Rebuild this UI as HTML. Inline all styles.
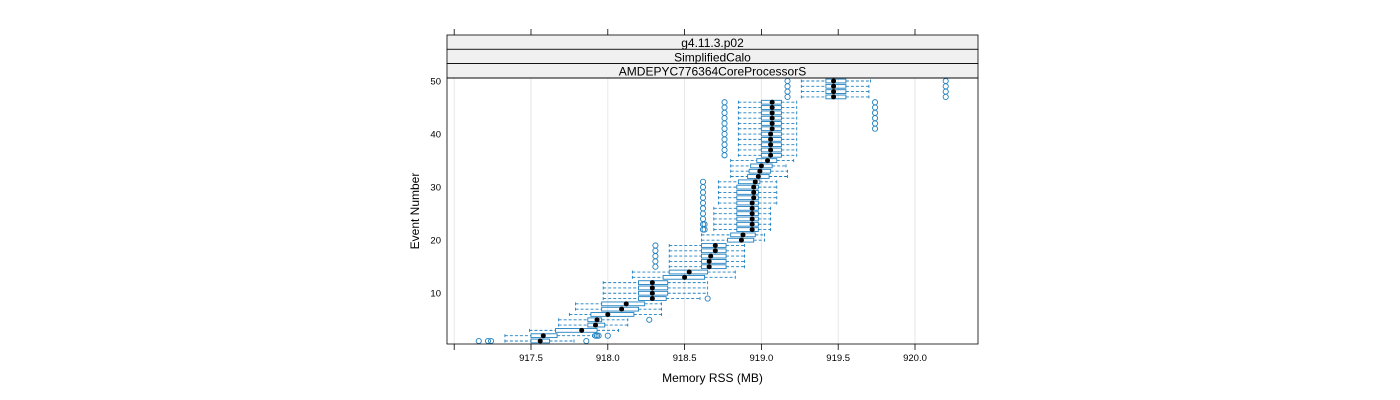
<!DOCTYPE html>
<html><head><meta charset="utf-8"><style>body{margin:0;background:#fff}svg{display:block;font-family:"Liberation Sans",sans-serif}</style></head>
<body>
<svg id="chart" width="1400" height="400" viewBox="0 0 1400 400" xmlns="http://www.w3.org/2000/svg">
<g id="grid"></g>
<g id="strips">
<rect x="447" y="35" width="531" height="14.3" fill="#f0f0f0" stroke="#000" stroke-width="0.8"/>
<text x="712.5" y="47" font-size="12" text-anchor="middle">g4.11.3.p02</text>
<rect x="447" y="49.3" width="531" height="14.3" fill="#f0f0f0" stroke="#000" stroke-width="0.8"/>
<text x="712.5" y="61.3" font-size="12" text-anchor="middle">SimplifiedCalo</text>
<rect x="447" y="63.6" width="531" height="14.4" fill="#f0f0f0" stroke="#000" stroke-width="0.8"/>
<text x="712.5" y="75.6" font-size="12" text-anchor="middle">AMDEPYC776364CoreProcessorS</text>
</g>
<g id="marks"></g>
<rect x="447" y="78" width="531" height="266" fill="none" stroke="#000" stroke-width="0.8"/>
<g id="axes"></g>
<text x="712.5" y="382" font-size="12" text-anchor="middle">Memory RSS (MB)</text>
<text x="419" y="211" font-size="12" text-anchor="middle" transform="rotate(-90 419 211)">Event Number</text>
</svg>
<script>
const events=[];for(let i=1;i<=50;i++)events.push(i);
const lo=[917.33,917.33,917.49,917.68,917.68,917.75,917.79,917.79,917.97,917.97,917.97,917.97,918.16,918.16,918.4,918.4,918.4,918.4,918.4,918.61,918.61,918.69,918.69,918.69,918.69,918.69,918.72,918.72,918.72,918.72,918.72,918.8,918.8,918.8,918.8,918.85,918.85,918.85,918.85,918.85,918.85,918.85,918.85,918.85,918.85,918.85,919.26,919.26,919.26,919.26];
const q1=[917.5,917.5,917.66,917.87,917.87,917.89,917.96,917.96,918.2,918.2,918.2,918.2,918.36,918.4,918.61,918.61,918.61,918.61,918.61,918.78,918.8,918.84,918.84,918.84,918.84,918.84,918.84,918.84,918.84,918.84,918.85,918.91,918.92,918.93,918.97,919.0,919.0,919.0,919.0,919.0,919.0,919.0,919.0,919.0,919.0,919.0,919.42,919.42,919.42,919.42];
const med=[917.56,917.58,917.83,917.92,917.93,918.0,918.09,918.12,918.29,918.29,918.29,918.29,918.5,918.53,918.66,918.66,918.67,918.7,918.7,918.87,918.88,918.94,918.94,918.94,918.94,918.94,918.94,918.95,918.95,918.95,918.96,918.98,918.99,919.0,919.04,919.06,919.06,919.06,919.06,919.06,919.07,919.07,919.07,919.07,919.07,919.07,919.47,919.47,919.47,919.47];
const q3=[917.62,917.67,917.93,917.98,917.96,918.17,918.2,918.24,918.38,918.39,918.39,918.39,918.63,918.65,918.77,918.77,918.77,918.77,918.77,918.95,918.96,918.98,918.98,918.98,918.98,918.98,918.98,918.98,918.98,918.98,918.99,919.05,919.06,919.07,919.1,919.13,919.13,919.13,919.13,919.13,919.13,919.13,919.13,919.13,919.13,919.13,919.55,919.55,919.55,919.55];
const hi=[917.78,917.9,918.07,918.13,918.13,918.35,918.35,918.35,918.6,918.65,918.65,918.65,918.83,918.83,918.89,918.89,918.89,918.89,918.89,919.02,919.02,919.06,919.06,919.06,919.06,919.06,919.1,919.1,919.1,919.1,919.1,919.17,919.17,919.16,919.21,919.23,919.23,919.23,919.23,919.23,919.23,919.23,919.23,919.23,919.23,919.23,919.7,919.7,919.7,919.71];
const outliers=[[917.16,917.22,917.24,917.86],[917.92,917.93,917.94,918.0],[],[],[918.27],[],[],[],[918.65],[],[],[],[],[],[918.31],[918.31],[918.31],[918.31],[918.31],[],[],[918.62,918.63],[918.62,918.63],[918.62],[918.62],[918.62],[918.62],[918.62],[918.62],[918.62],[918.62],[],[],[],[],[918.76],[918.76],[918.76],[918.76],[918.76],[918.76,919.74],[918.76,919.74],[918.76,919.74],[918.76,919.74],[918.76,919.74],[918.76,919.74],[919.17,920.2],[919.17,920.2],[919.17,920.2],[919.17,920.2]];
const xTicks=[917.0,917.5,918.0,918.5,919.0,919.5,920.0];
const xTickLabels=["","917.5","918.0","918.5","919.0","919.5","920.0"];
const yTicks=[10,20,30,40,50];

const NS="http://www.w3.org/2000/svg";
function X(v){return 531+(v-917.5)*153.6;}
function Y(e){return 81+(50-e)*5.306;}
function mk(tag,attrs,parent){const el=document.createElementNS(NS,tag);for(const k in attrs)el.setAttribute(k,attrs[k]);parent.appendChild(el);return el;}
const grid=document.getElementById('grid'),axes=document.getElementById('axes'),marks=document.getElementById('marks');
const C="#1f80c0";
xTicks.forEach((t,i)=>{
  const x=X(t);
  const g=mk('line',{x1:x,x2:x,y1:78,y2:344,stroke:'#e6e6e6','stroke-width':1},grid);
  
  
  const tb=mk('line',{x1:x,x2:x,y1:344,y2:350,stroke:'#000','stroke-width':0.8},axes);
  
  
  const tt=mk('line',{x1:x,x2:x,y1:29,y2:35,stroke:'#000','stroke-width':0.8},axes);
  
  
  if(xTickLabels[i]){
    const l=mk('text',{x:x,y:361,'font-size':9.5,'text-anchor':'middle'},axes);
    l.textContent=xTickLabels[i];
    
    
  }
});
yTicks.forEach(t=>{
  const l=mk('text',{x:441,y:Y(t)+3.5,'font-size':9.5,'text-anchor':'end'},axes);
  l.textContent=String(t);
  
  
});
events.forEach((e,i)=>{
  const y=Y(e);
  const g=mk('g',{},marks);
  
  
  mk('line',{x1:X(lo[i]),x2:X(q1[i]),y1:y,y2:y,stroke:C,'stroke-width':0.9,'stroke-dasharray':'3,2'},g);
  mk('line',{x1:X(q3[i]),x2:X(hi[i]),y1:y,y2:y,stroke:C,'stroke-width':0.9,'stroke-dasharray':'3,2'},g);
  mk('line',{x1:X(lo[i]),x2:X(lo[i]),y1:y-1.5,y2:y+1.5,stroke:C,'stroke-width':0.9},g);
  mk('line',{x1:X(hi[i]),x2:X(hi[i]),y1:y-1.5,y2:y+1.5,stroke:C,'stroke-width':0.9},g);
  mk('rect',{x:X(q1[i]),y:y-1.9,width:Math.max(0.5,X(q3[i])-X(q1[i])),height:3.8,fill:'none',stroke:C,'stroke-width':0.9},g);
  mk('circle',{cx:X(med[i]),cy:y,r:2.5,fill:'#000'},g);
  outliers[i].forEach(o=>{mk('circle',{cx:X(o),cy:y,r:2.6,fill:'none',stroke:C,'stroke-width':0.9},g);});
});
</script>
</body></html>
